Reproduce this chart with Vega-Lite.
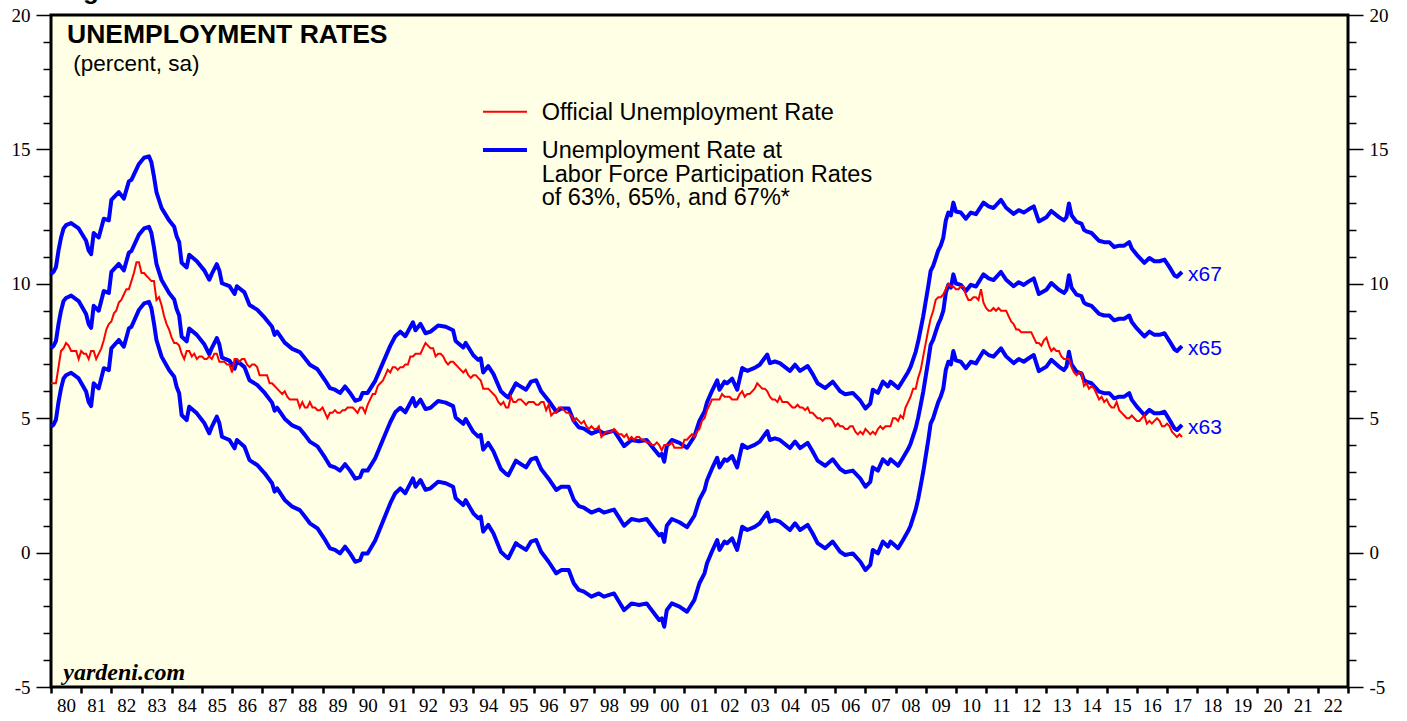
{
"$schema":"https://vega.github.io/schema/vega-lite/v6.json",
"width":1297,"height":672,
"autosize":{"type":"none"},
"padding":{"left":51,"top":15,"right":59,"bottom":34},
"background":"white",
"config":{"view":{"fill":"#FFFFE5","stroke":"#000","strokeWidth":3},"axis":{"grid":false,"domain":false,"tickColor":"#000","labelColor":"#000","labelFont":"Liberation Serif","labelFontSize":19}},
"datasets":{
"u":[
{"d":"1980-01","v":6.3},{"d":"1980-02","v":6.3},{"d":"1980-03","v":6.3},{"d":"1980-04","v":6.9},{"d":"1980-05","v":7.5},{"d":"1980-06","v":7.6},{"d":"1980-07","v":7.8},{"d":"1980-08","v":7.7},{"d":"1980-09","v":7.5},{"d":"1980-10","v":7.5},{"d":"1980-11","v":7.5},{"d":"1980-12","v":7.2},
{"d":"1981-01","v":7.5},{"d":"1981-02","v":7.4},{"d":"1981-03","v":7.4},{"d":"1981-04","v":7.2},{"d":"1981-05","v":7.5},{"d":"1981-06","v":7.5},{"d":"1981-07","v":7.2},{"d":"1981-08","v":7.4},{"d":"1981-09","v":7.6},{"d":"1981-10","v":7.9},{"d":"1981-11","v":8.3},{"d":"1981-12","v":8.5},
{"d":"1982-01","v":8.6},{"d":"1982-02","v":8.9},{"d":"1982-03","v":9.0},{"d":"1982-04","v":9.3},{"d":"1982-05","v":9.4},{"d":"1982-06","v":9.6},{"d":"1982-07","v":9.8},{"d":"1982-08","v":9.8},{"d":"1982-09","v":10.1},{"d":"1982-10","v":10.4},{"d":"1982-11","v":10.8},{"d":"1982-12","v":10.8},
{"d":"1983-01","v":10.4},{"d":"1983-02","v":10.4},{"d":"1983-03","v":10.3},{"d":"1983-04","v":10.2},{"d":"1983-05","v":10.1},{"d":"1983-06","v":10.1},{"d":"1983-07","v":9.4},{"d":"1983-08","v":9.5},{"d":"1983-09","v":9.2},{"d":"1983-10","v":8.8},{"d":"1983-11","v":8.5},{"d":"1983-12","v":8.3},
{"d":"1984-01","v":8.0},{"d":"1984-02","v":7.8},{"d":"1984-03","v":7.8},{"d":"1984-04","v":7.7},{"d":"1984-05","v":7.4},{"d":"1984-06","v":7.2},{"d":"1984-07","v":7.5},{"d":"1984-08","v":7.5},{"d":"1984-09","v":7.3},{"d":"1984-10","v":7.4},{"d":"1984-11","v":7.2},{"d":"1984-12","v":7.3},
{"d":"1985-01","v":7.3},{"d":"1985-02","v":7.2},{"d":"1985-03","v":7.2},{"d":"1985-04","v":7.3},{"d":"1985-05","v":7.2},{"d":"1985-06","v":7.4},{"d":"1985-07","v":7.4},{"d":"1985-08","v":7.1},{"d":"1985-09","v":7.1},{"d":"1985-10","v":7.1},{"d":"1985-11","v":7.0},{"d":"1985-12","v":7.0},
{"d":"1986-01","v":6.7},{"d":"1986-02","v":7.2},{"d":"1986-03","v":7.2},{"d":"1986-04","v":7.1},{"d":"1986-05","v":7.2},{"d":"1986-06","v":7.2},{"d":"1986-07","v":7.0},{"d":"1986-08","v":6.9},{"d":"1986-09","v":7.0},{"d":"1986-10","v":7.0},{"d":"1986-11","v":6.9},{"d":"1986-12","v":6.6},
{"d":"1987-01","v":6.6},{"d":"1987-02","v":6.6},{"d":"1987-03","v":6.6},{"d":"1987-04","v":6.3},{"d":"1987-05","v":6.3},{"d":"1987-06","v":6.2},{"d":"1987-07","v":6.1},{"d":"1987-08","v":6.0},{"d":"1987-09","v":5.9},{"d":"1987-10","v":6.0},{"d":"1987-11","v":5.8},{"d":"1987-12","v":5.7},
{"d":"1988-01","v":5.7},{"d":"1988-02","v":5.7},{"d":"1988-03","v":5.7},{"d":"1988-04","v":5.4},{"d":"1988-05","v":5.6},{"d":"1988-06","v":5.4},{"d":"1988-07","v":5.4},{"d":"1988-08","v":5.6},{"d":"1988-09","v":5.4},{"d":"1988-10","v":5.4},{"d":"1988-11","v":5.3},{"d":"1988-12","v":5.3},
{"d":"1989-01","v":5.4},{"d":"1989-02","v":5.2},{"d":"1989-03","v":5.0},{"d":"1989-04","v":5.2},{"d":"1989-05","v":5.2},{"d":"1989-06","v":5.3},{"d":"1989-07","v":5.2},{"d":"1989-08","v":5.2},{"d":"1989-09","v":5.3},{"d":"1989-10","v":5.3},{"d":"1989-11","v":5.4},{"d":"1989-12","v":5.4},
{"d":"1990-01","v":5.4},{"d":"1990-02","v":5.3},{"d":"1990-03","v":5.2},{"d":"1990-04","v":5.4},{"d":"1990-05","v":5.4},{"d":"1990-06","v":5.2},{"d":"1990-07","v":5.5},{"d":"1990-08","v":5.7},{"d":"1990-09","v":5.9},{"d":"1990-10","v":5.9},{"d":"1990-11","v":6.2},{"d":"1990-12","v":6.3},
{"d":"1991-01","v":6.4},{"d":"1991-02","v":6.6},{"d":"1991-03","v":6.8},{"d":"1991-04","v":6.7},{"d":"1991-05","v":6.9},{"d":"1991-06","v":6.9},{"d":"1991-07","v":6.8},{"d":"1991-08","v":6.9},{"d":"1991-09","v":6.9},{"d":"1991-10","v":7.0},{"d":"1991-11","v":7.0},{"d":"1991-12","v":7.3},
{"d":"1992-01","v":7.3},{"d":"1992-02","v":7.4},{"d":"1992-03","v":7.4},{"d":"1992-04","v":7.4},{"d":"1992-05","v":7.6},{"d":"1992-06","v":7.8},{"d":"1992-07","v":7.7},{"d":"1992-08","v":7.6},{"d":"1992-09","v":7.6},{"d":"1992-10","v":7.3},{"d":"1992-11","v":7.4},{"d":"1992-12","v":7.4},
{"d":"1993-01","v":7.3},{"d":"1993-02","v":7.1},{"d":"1993-03","v":7.0},{"d":"1993-04","v":7.1},{"d":"1993-05","v":7.1},{"d":"1993-06","v":7.0},{"d":"1993-07","v":6.9},{"d":"1993-08","v":6.8},{"d":"1993-09","v":6.7},{"d":"1993-10","v":6.8},{"d":"1993-11","v":6.6},{"d":"1993-12","v":6.5},
{"d":"1994-01","v":6.6},{"d":"1994-02","v":6.6},{"d":"1994-03","v":6.5},{"d":"1994-04","v":6.4},{"d":"1994-05","v":6.1},{"d":"1994-06","v":6.1},{"d":"1994-07","v":6.1},{"d":"1994-08","v":6.0},{"d":"1994-09","v":5.9},{"d":"1994-10","v":5.8},{"d":"1994-11","v":5.6},{"d":"1994-12","v":5.5},
{"d":"1995-01","v":5.6},{"d":"1995-02","v":5.4},{"d":"1995-03","v":5.4},{"d":"1995-04","v":5.8},{"d":"1995-05","v":5.6},{"d":"1995-06","v":5.6},{"d":"1995-07","v":5.7},{"d":"1995-08","v":5.7},{"d":"1995-09","v":5.6},{"d":"1995-10","v":5.5},{"d":"1995-11","v":5.6},{"d":"1995-12","v":5.6},
{"d":"1996-01","v":5.6},{"d":"1996-02","v":5.5},{"d":"1996-03","v":5.5},{"d":"1996-04","v":5.6},{"d":"1996-05","v":5.6},{"d":"1996-06","v":5.3},{"d":"1996-07","v":5.5},{"d":"1996-08","v":5.1},{"d":"1996-09","v":5.2},{"d":"1996-10","v":5.2},{"d":"1996-11","v":5.4},{"d":"1996-12","v":5.4},
{"d":"1997-01","v":5.3},{"d":"1997-02","v":5.2},{"d":"1997-03","v":5.2},{"d":"1997-04","v":5.1},{"d":"1997-05","v":4.9},{"d":"1997-06","v":5.0},{"d":"1997-07","v":4.9},{"d":"1997-08","v":4.8},{"d":"1997-09","v":4.9},{"d":"1997-10","v":4.7},{"d":"1997-11","v":4.6},{"d":"1997-12","v":4.7},
{"d":"1998-01","v":4.6},{"d":"1998-02","v":4.6},{"d":"1998-03","v":4.7},{"d":"1998-04","v":4.3},{"d":"1998-05","v":4.4},{"d":"1998-06","v":4.5},{"d":"1998-07","v":4.5},{"d":"1998-08","v":4.5},{"d":"1998-09","v":4.6},{"d":"1998-10","v":4.5},{"d":"1998-11","v":4.4},{"d":"1998-12","v":4.4},
{"d":"1999-01","v":4.3},{"d":"1999-02","v":4.4},{"d":"1999-03","v":4.2},{"d":"1999-04","v":4.3},{"d":"1999-05","v":4.2},{"d":"1999-06","v":4.3},{"d":"1999-07","v":4.3},{"d":"1999-08","v":4.2},{"d":"1999-09","v":4.2},{"d":"1999-10","v":4.1},{"d":"1999-11","v":4.1},{"d":"1999-12","v":4.0},
{"d":"2000-01","v":4.0},{"d":"2000-02","v":4.1},{"d":"2000-03","v":4.0},{"d":"2000-04","v":3.8},{"d":"2000-05","v":4.0},{"d":"2000-06","v":4.0},{"d":"2000-07","v":4.0},{"d":"2000-08","v":4.1},{"d":"2000-09","v":3.9},{"d":"2000-10","v":3.9},{"d":"2000-11","v":3.9},{"d":"2000-12","v":3.9},
{"d":"2001-01","v":4.2},{"d":"2001-02","v":4.2},{"d":"2001-03","v":4.3},{"d":"2001-04","v":4.4},{"d":"2001-05","v":4.3},{"d":"2001-06","v":4.5},{"d":"2001-07","v":4.6},{"d":"2001-08","v":4.9},{"d":"2001-09","v":5.0},{"d":"2001-10","v":5.3},{"d":"2001-11","v":5.5},{"d":"2001-12","v":5.7},
{"d":"2002-01","v":5.7},{"d":"2002-02","v":5.7},{"d":"2002-03","v":5.7},{"d":"2002-04","v":5.9},{"d":"2002-05","v":5.8},{"d":"2002-06","v":5.8},{"d":"2002-07","v":5.8},{"d":"2002-08","v":5.7},{"d":"2002-09","v":5.7},{"d":"2002-10","v":5.7},{"d":"2002-11","v":5.9},{"d":"2002-12","v":6.0},
{"d":"2003-01","v":5.8},{"d":"2003-02","v":5.9},{"d":"2003-03","v":5.9},{"d":"2003-04","v":6.0},{"d":"2003-05","v":6.1},{"d":"2003-06","v":6.3},{"d":"2003-07","v":6.2},{"d":"2003-08","v":6.1},{"d":"2003-09","v":6.1},{"d":"2003-10","v":6.0},{"d":"2003-11","v":5.8},{"d":"2003-12","v":5.7},
{"d":"2004-01","v":5.7},{"d":"2004-02","v":5.6},{"d":"2004-03","v":5.8},{"d":"2004-04","v":5.6},{"d":"2004-05","v":5.6},{"d":"2004-06","v":5.6},{"d":"2004-07","v":5.5},{"d":"2004-08","v":5.4},{"d":"2004-09","v":5.4},{"d":"2004-10","v":5.5},{"d":"2004-11","v":5.4},{"d":"2004-12","v":5.4},
{"d":"2005-01","v":5.3},{"d":"2005-02","v":5.4},{"d":"2005-03","v":5.2},{"d":"2005-04","v":5.2},{"d":"2005-05","v":5.1},{"d":"2005-06","v":5.0},{"d":"2005-07","v":5.0},{"d":"2005-08","v":4.9},{"d":"2005-09","v":5.0},{"d":"2005-10","v":5.0},{"d":"2005-11","v":5.0},{"d":"2005-12","v":4.9},
{"d":"2006-01","v":4.7},{"d":"2006-02","v":4.8},{"d":"2006-03","v":4.7},{"d":"2006-04","v":4.7},{"d":"2006-05","v":4.6},{"d":"2006-06","v":4.6},{"d":"2006-07","v":4.7},{"d":"2006-08","v":4.7},{"d":"2006-09","v":4.5},{"d":"2006-10","v":4.4},{"d":"2006-11","v":4.5},{"d":"2006-12","v":4.4},
{"d":"2007-01","v":4.6},{"d":"2007-02","v":4.5},{"d":"2007-03","v":4.4},{"d":"2007-04","v":4.5},{"d":"2007-05","v":4.4},{"d":"2007-06","v":4.6},{"d":"2007-07","v":4.7},{"d":"2007-08","v":4.6},{"d":"2007-09","v":4.7},{"d":"2007-10","v":4.7},{"d":"2007-11","v":4.7},{"d":"2007-12","v":5.0},
{"d":"2008-01","v":5.0},{"d":"2008-02","v":4.9},{"d":"2008-03","v":5.1},{"d":"2008-04","v":5.0},{"d":"2008-05","v":5.4},{"d":"2008-06","v":5.6},{"d":"2008-07","v":5.8},{"d":"2008-08","v":6.1},{"d":"2008-09","v":6.1},{"d":"2008-10","v":6.5},{"d":"2008-11","v":6.8},{"d":"2008-12","v":7.3},
{"d":"2009-01","v":7.8},{"d":"2009-02","v":8.3},{"d":"2009-03","v":8.7},{"d":"2009-04","v":9.0},{"d":"2009-05","v":9.4},{"d":"2009-06","v":9.5},{"d":"2009-07","v":9.5},{"d":"2009-08","v":9.6},{"d":"2009-09","v":9.8},{"d":"2009-10","v":10.0},{"d":"2009-11","v":9.9},{"d":"2009-12","v":9.9},
{"d":"2010-01","v":9.8},{"d":"2010-02","v":9.8},{"d":"2010-03","v":9.9},{"d":"2010-04","v":9.9},{"d":"2010-05","v":9.6},{"d":"2010-06","v":9.4},{"d":"2010-07","v":9.4},{"d":"2010-08","v":9.5},{"d":"2010-09","v":9.5},{"d":"2010-10","v":9.4},{"d":"2010-11","v":9.8},{"d":"2010-12","v":9.3},
{"d":"2011-01","v":9.1},{"d":"2011-02","v":9.0},{"d":"2011-03","v":9.0},{"d":"2011-04","v":9.1},{"d":"2011-05","v":9.0},{"d":"2011-06","v":9.1},{"d":"2011-07","v":9.0},{"d":"2011-08","v":9.0},{"d":"2011-09","v":9.0},{"d":"2011-10","v":8.8},{"d":"2011-11","v":8.6},{"d":"2011-12","v":8.5},
{"d":"2012-01","v":8.3},{"d":"2012-02","v":8.3},{"d":"2012-03","v":8.2},{"d":"2012-04","v":8.2},{"d":"2012-05","v":8.2},{"d":"2012-06","v":8.2},{"d":"2012-07","v":8.2},{"d":"2012-08","v":8.0},{"d":"2012-09","v":7.8},{"d":"2012-10","v":7.8},{"d":"2012-11","v":7.7},{"d":"2012-12","v":7.9},
{"d":"2013-01","v":8.0},{"d":"2013-02","v":7.7},{"d":"2013-03","v":7.5},{"d":"2013-04","v":7.6},{"d":"2013-05","v":7.5},{"d":"2013-06","v":7.5},{"d":"2013-07","v":7.3},{"d":"2013-08","v":7.2},{"d":"2013-09","v":7.2},{"d":"2013-10","v":7.2},{"d":"2013-11","v":6.9},{"d":"2013-12","v":6.7},
{"d":"2014-01","v":6.6},{"d":"2014-02","v":6.7},{"d":"2014-03","v":6.7},{"d":"2014-04","v":6.2},{"d":"2014-05","v":6.3},{"d":"2014-06","v":6.1},{"d":"2014-07","v":6.2},{"d":"2014-08","v":6.1},{"d":"2014-09","v":5.9},{"d":"2014-10","v":5.7},{"d":"2014-11","v":5.8},{"d":"2014-12","v":5.6},
{"d":"2015-01","v":5.7},{"d":"2015-02","v":5.5},{"d":"2015-03","v":5.4},{"d":"2015-04","v":5.4},{"d":"2015-05","v":5.6},{"d":"2015-06","v":5.3},{"d":"2015-07","v":5.2},{"d":"2015-08","v":5.1},{"d":"2015-09","v":5.0},{"d":"2015-10","v":5.0},{"d":"2015-11","v":5.1},{"d":"2015-12","v":5.0},
{"d":"2016-01","v":4.9},{"d":"2016-02","v":4.9},{"d":"2016-03","v":5.0},{"d":"2016-04","v":5.1},{"d":"2016-05","v":4.8},{"d":"2016-06","v":4.9},{"d":"2016-07","v":4.8},{"d":"2016-08","v":4.9},{"d":"2016-09","v":5.0},{"d":"2016-10","v":4.9},{"d":"2016-11","v":4.7},{"d":"2016-12","v":4.7},
{"d":"2017-01","v":4.8},{"d":"2017-02","v":4.7},{"d":"2017-03","v":4.5},{"d":"2017-04","v":4.4},{"d":"2017-05","v":4.3},{"d":"2017-06","v":4.4},{"d":"2017-07","v":4.3}
],
"b":[
{"d":"1980-01","x63":4.68,"x65":7.61,"x67":10.37},{"d":"1980-02","x63":4.76,"x65":7.69,"x67":10.45},{"d":"1980-03","x63":4.95,"x65":7.87,"x67":10.62},{"d":"1980-04","x63":5.6,"x65":8.50,"x67":11.24},{"d":"1980-05","x63":6.1,"x65":8.99,"x67":11.71},{"d":"1980-06","x63":6.48,"x65":9.36,"x67":12.06},{"d":"1980-07","x63":6.6,"x65":9.47,"x67":12.18},{"d":"1980-09","x63":6.69,"x65":9.56,"x67":12.26},{"d":"1980-12","x63":6.48,"x65":9.36,"x67":12.06},
{"d":"1981-03","x63":5.99,"x65":8.88,"x67":11.60},{"d":"1981-04","x63":5.6,"x65":8.50,"x67":11.24},{"d":"1981-05","x63":5.45,"x65":8.36,"x67":11.10},{"d":"1981-06","x63":6.3,"x65":9.18,"x67":11.89},{"d":"1981-07","x63":6.2,"x65":9.09,"x67":11.80},{"d":"1981-08","x63":6.11,"x65":9.00,"x67":11.72},{"d":"1981-10","x63":6.86,"x65":9.73,"x67":12.42},{"d":"1981-12","x63":6.79,"x65":9.66,"x67":12.36},
{"d":"1982-01","x63":7.60,"x65":10.44,"x67":13.12},{"d":"1982-04","x63":7.91,"x65":10.74,"x67":13.41},{"d":"1982-06","x63":7.66,"x65":10.50,"x67":13.17},{"d":"1982-08","x63":8.34,"x65":11.16,"x67":13.81},{"d":"1982-09","x63":8.40,"x65":11.22,"x67":13.87},{"d":"1982-12","x63":9.03,"x65":11.83,"x67":14.46},
{"d":"1983-02","x63":9.27,"x65":12.06,"x67":14.69},{"d":"1983-04","x63":9.33,"x65":12.12,"x67":14.74},{"d":"1983-05","x63":9.09,"x65":11.89,"x67":14.52},{"d":"1983-06","x63":8.53,"x65":11.35,"x67":13.99},{"d":"1983-07","x63":7.91,"x65":10.74,"x67":13.41},{"d":"1983-09","x63":7.29,"x65":10.14,"x67":12.82},{"d":"1983-12","x63":6.79,"x65":9.66,"x67":12.36},
{"d":"1984-02","x63":6.54,"x65":9.42,"x67":12.12},{"d":"1984-03","x63":6.17,"x65":9.06,"x67":11.77},{"d":"1984-04","x63":5.93,"x65":8.82,"x67":11.55},{"d":"1984-05","x63":5.12,"x65":8.04,"x67":10.78},{"d":"1984-07","x63":4.93,"x65":7.86,"x67":10.61},{"d":"1984-08","x63":5.43,"x65":8.34,"x67":11.08},{"d":"1984-11","x63":5.18,"x65":8.10,"x67":10.84},
{"d":"1985-02","x63":4.81,"x65":7.74,"x67":10.49},{"d":"1985-04","x63":4.44,"x65":7.38,"x67":10.15},{"d":"1985-05","x63":4.68,"x65":7.61,"x67":10.37},{"d":"1985-07","x63":5.06,"x65":7.98,"x67":10.73},{"d":"1985-08","x63":4.81,"x65":7.74,"x67":10.49},{"d":"1985-09","x63":4.31,"x65":7.25,"x67":10.02},{"d":"1985-12","x63":4.19,"x65":7.14,"x67":9.91},
{"d":"1986-02","x63":3.88,"x65":6.84,"x67":9.62},{"d":"1986-03","x63":4.19,"x65":7.14,"x67":9.91},{"d":"1986-06","x63":3.94,"x65":6.90,"x67":9.68},{"d":"1986-08","x63":3.44,"x65":6.41,"x67":9.21},{"d":"1986-11","x63":3.26,"x65":6.24,"x67":9.04},
{"d":"1987-02","x63":2.95,"x65":5.94,"x67":8.74},{"d":"1987-05","x63":2.58,"x65":5.58,"x67":8.40},{"d":"1987-06","x63":2.27,"x65":5.28,"x67":8.10},{"d":"1987-07","x63":2.39,"x65":5.39,"x67":8.22},{"d":"1987-10","x63":1.96,"x65":4.98,"x67":7.81},
{"d":"1988-01","x63":1.71,"x65":4.73,"x67":7.58},{"d":"1988-04","x63":1.58,"x65":4.61,"x67":7.46},{"d":"1988-06","x63":1.34,"x65":4.38,"x67":7.23},{"d":"1988-08","x63":1.09,"x65":4.13,"x67":6.99},{"d":"1988-11","x63":0.90,"x65":3.95,"x67":6.82},
{"d":"1989-02","x63":0.47,"x65":3.53,"x67":6.41},{"d":"1989-04","x63":0.16,"x65":3.23,"x67":6.12},{"d":"1989-06","x63":0.10,"x65":3.17,"x67":6.06},{"d":"1989-08","x63":-0.03,"x65":3.05,"x67":5.94},{"d":"1989-10","x63":0.22,"x65":3.29,"x67":6.18},{"d":"1989-12","x63":-0.03,"x65":3.05,"x67":5.94},
{"d":"1990-02","x63":-0.34,"x65":2.75,"x67":5.65},{"d":"1990-04","x63":-0.28,"x65":2.81,"x67":5.71},{"d":"1990-05","x63":-0.03,"x65":3.05,"x67":5.94},{"d":"1990-07","x63":-0.03,"x65":3.05,"x67":5.94},{"d":"1990-10","x63":0.45,"x65":3.51,"x67":6.39},
{"d":"1991-01","x63":1.15,"x65":4.19,"x67":7.05},{"d":"1991-04","x63":1.83,"x65":4.85,"x67":7.69},{"d":"1991-06","x63":2.21,"x65":5.22,"x67":8.05},{"d":"1991-08","x63":2.39,"x65":5.39,"x67":8.22},{"d":"1991-10","x63":2.21,"x65":5.22,"x67":8.05},
{"d":"1992-01","x63":2.76,"x65":5.75,"x67":8.57},{"d":"1992-02","x63":2.45,"x65":5.45,"x67":8.27},{"d":"1992-04","x63":2.70,"x65":5.69,"x67":8.51},{"d":"1992-06","x63":2.33,"x65":5.34,"x67":8.16},{"d":"1992-08","x63":2.39,"x65":5.39,"x67":8.22},{"d":"1992-11","x63":2.64,"x65":5.64,"x67":8.45},
{"d":"1993-02","x63":2.58,"x65":5.58,"x67":8.40},{"d":"1993-05","x63":2.45,"x65":5.45,"x67":8.27},{"d":"1993-06","x63":2.02,"x65":5.03,"x67":7.87},{"d":"1993-09","x63":1.77,"x65":4.79,"x67":7.63},{"d":"1993-10","x63":1.95,"x65":4.97,"x67":7.80},
{"d":"1994-01","x63":1.46,"x65":4.49,"x67":7.34},{"d":"1994-03","x63":1.28,"x65":4.32,"x67":7.17},{"d":"1994-04","x63":1.34,"x65":4.38,"x67":7.23},{"d":"1994-05","x63":0.78,"x65":3.83,"x67":6.70},{"d":"1994-07","x63":1.03,"x65":4.08,"x67":6.94},{"d":"1994-09","x63":0.72,"x65":3.77,"x67":6.65},{"d":"1994-12","x63":0.03,"x65":3.11,"x67":6.00},
{"d":"1995-02","x63":-0.15,"x65":2.93,"x67":5.83},{"d":"1995-03","x63":-0.21,"x65":2.87,"x67":5.77},{"d":"1995-06","x63":0.35,"x65":3.42,"x67":6.30},{"d":"1995-07","x63":0.28,"x65":3.35,"x67":6.23},{"d":"1995-10","x63":0.10,"x65":3.17,"x67":6.06},{"d":"1995-12","x63":0.41,"x65":3.47,"x67":6.36},
{"d":"1996-02","x63":0.47,"x65":3.53,"x67":6.41},{"d":"1996-04","x63":0.03,"x65":3.11,"x67":6.00},{"d":"1996-07","x63":-0.34,"x65":2.75,"x67":5.65},{"d":"1996-10","x63":-0.77,"x65":2.33,"x67":5.25},{"d":"1996-12","x63":-0.65,"x65":2.45,"x67":5.36},
{"d":"1997-03","x63":-0.65,"x65":2.45,"x67":5.36},{"d":"1997-05","x63":-1.14,"x65":1.97,"x67":4.90},{"d":"1997-07","x63":-1.39,"x65":1.73,"x67":4.66},{"d":"1997-09","x63":-1.45,"x65":1.67,"x67":4.61},{"d":"1997-12","x63":-1.64,"x65":1.49,"x67":4.43},
{"d":"1998-03","x63":-1.52,"x65":1.60,"x67":4.54},{"d":"1998-05","x63":-1.64,"x65":1.49,"x67":4.43},{"d":"1998-09","x63":-1.52,"x65":1.60,"x67":4.54},{"d":"1998-11","x63":-1.83,"x65":1.30,"x67":4.25},
{"d":"1999-01","x63":-2.14,"x65":1.00,"x67":3.96},{"d":"1999-04","x63":-1.89,"x65":1.25,"x67":4.19},{"d":"1999-07","x63":-1.95,"x65":1.19,"x67":4.14},{"d":"1999-10","x63":-1.89,"x65":1.25,"x67":4.19},{"d":"1999-12","x63":-2.14,"x65":1.00,"x67":3.96},
{"d":"2000-03","x63":-2.51,"x65":0.64,"x67":3.61},{"d":"2000-04","x63":-2.45,"x65":0.70,"x67":3.67},{"d":"2000-05","x63":-2.76,"x65":0.40,"x67":3.38},{"d":"2000-06","x63":-2.14,"x65":1.00,"x67":3.96},{"d":"2000-08","x63":-1.89,"x65":1.25,"x67":4.19},{"d":"2000-11","x63":-2.01,"x65":1.13,"x67":4.08},
{"d":"2001-02","x63":-2.20,"x65":0.95,"x67":3.90},{"d":"2001-05","x63":-1.76,"x65":1.37,"x67":4.32},{"d":"2001-07","x63":-1.14,"x65":1.97,"x67":4.90},{"d":"2001-09","x63":-0.77,"x65":2.33,"x67":5.25},{"d":"2001-10","x63":-0.40,"x65":2.69,"x67":5.59},{"d":"2001-12","x63":0.05,"x65":3.13,"x67":6.02},
{"d":"2002-02","x63":0.47,"x65":3.53,"x67":6.41},{"d":"2002-03","x63":0.10,"x65":3.17,"x67":6.06},{"d":"2002-05","x63":0.41,"x65":3.47,"x67":6.36},{"d":"2002-06","x63":0.35,"x65":3.42,"x67":6.30},{"d":"2002-08","x63":0.53,"x65":3.59,"x67":6.47},{"d":"2002-10","x63":0.10,"x65":3.17,"x67":6.06},{"d":"2002-12","x63":0.96,"x65":4.01,"x67":6.87},
{"d":"2003-02","x63":0.84,"x65":3.89,"x67":6.76},{"d":"2003-05","x63":0.96,"x65":4.01,"x67":6.87},{"d":"2003-07","x63":1.09,"x65":4.13,"x67":6.99},{"d":"2003-10","x63":1.49,"x65":4.52,"x67":7.37},{"d":"2003-11","x63":1.15,"x65":4.19,"x67":7.05},
{"d":"2004-01","x63":1.21,"x65":4.25,"x67":7.11},{"d":"2004-03","x63":1.15,"x65":4.19,"x67":7.05},{"d":"2004-07","x63":0.84,"x65":3.89,"x67":6.76},{"d":"2004-09","x63":1.09,"x65":4.13,"x67":6.99},{"d":"2004-11","x63":0.84,"x65":3.89,"x67":6.76},
{"d":"2005-02","x63":1.03,"x65":4.08,"x67":6.94},{"d":"2005-04","x63":0.72,"x65":3.77,"x67":6.65},{"d":"2005-06","x63":0.35,"x65":3.42,"x67":6.30},{"d":"2005-09","x63":0.16,"x65":3.23,"x67":6.12},{"d":"2005-12","x63":0.41,"x65":3.47,"x67":6.36},
{"d":"2006-03","x63":0.03,"x65":3.11,"x67":6.00},{"d":"2006-05","x63":-0.09,"x65":2.99,"x67":5.89},{"d":"2006-08","x63":-0.03,"x65":3.05,"x67":5.94},{"d":"2006-11","x63":-0.34,"x65":2.75,"x67":5.65},
{"d":"2007-01","x63":-0.65,"x65":2.45,"x67":5.36},{"d":"2007-03","x63":-0.46,"x65":2.63,"x67":5.54},{"d":"2007-04","x63":0.10,"x65":3.17,"x67":6.06},{"d":"2007-06","x63":-0.03,"x65":3.05,"x67":5.94},{"d":"2007-08","x63":0.41,"x65":3.47,"x67":6.36},{"d":"2007-10","x63":0.22,"x65":3.29,"x67":6.18},{"d":"2007-11","x63":0.41,"x65":3.47,"x67":6.36},
{"d":"2008-02","x63":0.16,"x65":3.23,"x67":6.12},{"d":"2008-04","x63":0.47,"x65":3.53,"x67":6.41},{"d":"2008-06","x63":0.8,"x65":3.85,"x67":6.72},{"d":"2008-07","x63":1.0,"x65":4.05,"x67":6.91},{"d":"2008-08","x63":1.3,"x65":4.34,"x67":7.19},{"d":"2008-09","x63":1.6,"x65":4.63,"x67":7.47},{"d":"2008-10","x63":2.0,"x65":5.02,"x67":7.85},{"d":"2008-11","x63":2.5,"x65":5.50,"x67":8.32},{"d":"2008-12","x63":3.0,"x65":5.98,"x67":8.79},
{"d":"2009-01","x63":3.6,"x65":6.57,"x67":9.36},{"d":"2009-02","x63":4.2,"x65":7.15,"x67":9.92},{"d":"2009-03","x63":4.8,"x65":7.73,"x67":10.48},{"d":"2009-04","x63":5.0,"x65":7.92,"x67":10.67},{"d":"2009-05","x63":5.3,"x65":8.21,"x67":10.95},{"d":"2009-06","x63":5.6,"x65":8.50,"x67":11.24},{"d":"2009-07","x63":5.8,"x65":8.70,"x67":11.42},{"d":"2009-08","x63":6.1,"x65":8.99,"x67":11.71},{"d":"2009-09","x63":6.8,"x65":9.67,"x67":12.36},{"d":"2009-10","x63":7.1,"x65":9.96,"x67":12.65},{"d":"2009-11","x63":7.0,"x65":9.86,"x67":12.55},{"d":"2009-12","x63":7.5,"x65":10.35,"x67":13.02},
{"d":"2010-01","x63":7.15,"x65":10.01,"x67":12.69},{"d":"2010-03","x63":7.1,"x65":9.96,"x67":12.65},{"d":"2010-05","x63":6.86,"x65":9.73,"x67":12.42},{"d":"2010-07","x63":7.1,"x65":9.96,"x67":12.65},{"d":"2010-09","x63":7.04,"x65":9.90,"x67":12.59},{"d":"2010-12","x63":7.5,"x65":10.35,"x67":13.02},
{"d":"2011-02","x63":7.35,"x65":10.20,"x67":12.88},{"d":"2011-04","x63":7.29,"x65":10.14,"x67":12.82},{"d":"2011-07","x63":7.60,"x65":10.44,"x67":13.12},{"d":"2011-09","x63":7.3,"x65":10.15,"x67":12.83},{"d":"2011-12","x63":7.05,"x65":9.91,"x67":12.60},
{"d":"2012-02","x63":7.2,"x65":10.06,"x67":12.74},{"d":"2012-04","x63":7.1,"x65":9.96,"x67":12.65},{"d":"2012-06","x63":7.23,"x65":10.09,"x67":12.77},{"d":"2012-08","x63":7.35,"x65":10.20,"x67":12.88},{"d":"2012-10","x63":6.75,"x65":9.62,"x67":12.32},
{"d":"2013-01","x63":6.92,"x65":9.78,"x67":12.48},{"d":"2013-03","x63":7.17,"x65":10.03,"x67":12.71},{"d":"2013-06","x63":6.92,"x65":9.78,"x67":12.48},{"d":"2013-08","x63":6.79,"x65":9.66,"x67":12.36},{"d":"2013-09","x63":6.92,"x65":9.78,"x67":12.48},{"d":"2013-10","x63":7.47,"x65":10.32,"x67":12.99},{"d":"2013-11","x63":7.0,"x65":9.86,"x67":12.55},
{"d":"2014-01","x63":6.73,"x65":9.60,"x67":12.30},{"d":"2014-03","x63":6.67,"x65":9.54,"x67":12.24},{"d":"2014-04","x63":6.42,"x65":9.30,"x67":12.01},{"d":"2014-05","x63":6.36,"x65":9.24,"x67":11.95},{"d":"2014-07","x63":6.30,"x65":9.18,"x67":11.89},{"d":"2014-10","x63":5.99,"x65":8.88,"x67":11.60},{"d":"2014-12","x63":5.93,"x65":8.82,"x67":11.55},
{"d":"2015-02","x63":5.93,"x65":8.82,"x67":11.55},{"d":"2015-04","x63":5.74,"x65":8.64,"x67":11.37},{"d":"2015-06","x63":5.80,"x65":8.70,"x67":11.42},{"d":"2015-08","x63":5.80,"x65":8.70,"x67":11.42},{"d":"2015-10","x63":5.93,"x65":8.82,"x67":11.55},{"d":"2015-11","x63":5.68,"x65":8.58,"x67":11.31},
{"d":"2016-01","x63":5.43,"x65":8.34,"x67":11.08},{"d":"2016-04","x63":5.12,"x65":8.04,"x67":10.78},{"d":"2016-06","x63":5.31,"x65":8.22,"x67":10.96},{"d":"2016-08","x63":5.18,"x65":8.10,"x67":10.84},{"d":"2016-10","x63":5.18,"x65":8.10,"x67":10.84},{"d":"2016-12","x63":5.24,"x65":8.16,"x67":10.90},
{"d":"2017-02","x63":4.93,"x65":7.86,"x67":10.61},{"d":"2017-04","x63":4.62,"x65":7.56,"x67":10.31},{"d":"2017-05","x63":4.56,"x65":7.50,"x67":10.26},{"d":"2017-07","x63":4.75,"x65":7.68,"x67":10.44}
]
},
"resolve":{"axis":{"y":"independent"}},
"layer":[
{"mark":{"type":"rule","color":"#222","strokeWidth":1.5},
 "encoding":{"y":{"datum":0,"type":"quantitative","scale":{"domain":[-5,20],"nice":false,"zero":false},"axis":{"orient":"left","values":[-5,0,5,10,15,20],"labelExpr":"'' + datum.value","tickSize":15,"tickWidth":1.5,"labelPadding":6,"title":null}}}},
{"data":{"name":"b"},
 "transform":[{"fold":["x63","x65","x67"],"as":["s","v"]}],
 "mark":{"type":"line","color":"#0000FF","strokeWidth":4,"strokeJoin":"round"},
 "encoding":{
  "x":{"field":"d","type":"temporal","title":null,"scale":{"type":"utc","domain":[315532800000,1672531200000]},
   "axis":{"orient":"bottom","tickCount":{"interval":"year","step":1},"tickSize":6,"tickWidth":2.5,"labelPadding":3,"labelOffset":15,"labelFlush":false,"labelOverlap":false,"labelExpr":"utcyear(datum.value) >= 2023 ? '' : utcFormat(datum.value, '%y')","title":null}},
  "y":{"field":"v","type":"quantitative","scale":{"domain":[-5,20],"nice":false,"zero":false},"axis":{"orient":"left","values":[-4,-3,-2,-1,1,2,3,4,6,7,8,9,11,12,13,14,16,17,18,19],"tickSize":8,"tickWidth":1.5,"labels":false,"title":null}},
  "detail":{"field":"s"}}},
{"data":{"name":"u"},
 "mark":{"type":"line","color":"#FF0000","strokeWidth":2},
 "encoding":{
  "x":{"field":"d","type":"temporal","title":null},
  "y":{"field":"v","type":"quantitative","scale":{"domain":[-5,20],"nice":false,"zero":false},"axis":{"orient":"right","values":[-5,0,5,10,15,20],"labelExpr":"'' + datum.value","tickSize":15,"tickWidth":1.5,"labelPadding":6,"title":null}}}},
{"data":{"name":"b"},
 "transform":[{"fold":["x63","x65","x67"],"as":["s","v"]},{"filter":"utcFormat(toDate(datum.d), '%Y-%m') == '2017-07'"}],
 "mark":{"type":"text","color":"#0000FF","font":"Liberation Sans","fontSize":21,"align":"left","baseline":"middle","dx":6,"dy":3},
 "encoding":{
  "x":{"field":"d","type":"temporal","title":null},
  "y":{"field":"v","type":"quantitative","scale":{"domain":[-5,20],"nice":false,"zero":false},"axis":{"orient":"right","values":[-4,-3,-2,-1,1,2,3,4,6,7,8,9,11,12,13,14,16,17,18,19],"tickSize":8,"tickWidth":1.5,"labels":false,"title":null}},
  "text":{"field":"s"}}},
{"data":{"values":[{}]},
 "mark":{"type":"text","text":"UNEMPLOYMENT RATES","font":"Liberation Sans","fontWeight":"bold","fontSize":26.5,"align":"left","baseline":"alphabetic","color":"#000"},
 "encoding":{"x":{"datum":332294400000,"type":"temporal","title":null},"y":{"datum":18.96,"type":"quantitative","axis":null}}},
{"data":{"values":[{}]},
 "mark":{"type":"text","text":"(percent, sa)","font":"Liberation Sans","fontSize":22.5,"align":"left","baseline":"alphabetic","color":"#000"},
 "encoding":{"x":{"datum":338860800000,"type":"temporal","title":null},"y":{"datum":17.92,"type":"quantitative","axis":null}}},
{"data":{"values":[{}]},
 "mark":{"type":"text","text":"Figure","font":"Liberation Sans","fontWeight":"bold","fontSize":26,"align":"left","baseline":"alphabetic","color":"#000"},
 "encoding":{"x":{"datum":324950400000,"type":"temporal","title":null},"y":{"datum":20.6,"type":"quantitative","axis":null}}},
{"data":{"values":[{}]},
 "mark":{"type":"rule","color":"#FF0000","strokeWidth":2},
 "encoding":{"x":{"datum":767491200000,"type":"temporal","title":null},"x2":{"datum":813542400000},"y":{"datum":16.40,"type":"quantitative","axis":null}}},
{"data":{"values":[{}]},
 "mark":{"type":"rule","color":"#0000FF","strokeWidth":4},
 "encoding":{"x":{"datum":767491200000,"type":"temporal","title":null},"x2":{"datum":813542400000},"y":{"datum":14.98,"type":"quantitative","axis":null}}},
{"data":{"values":[{}]},
 "mark":{"type":"text","text":"Official Unemployment Rate","font":"Liberation Sans","fontSize":23.5,"align":"left","baseline":"alphabetic","color":"#000"},
 "encoding":{"x":{"datum":828921600000,"type":"temporal","title":null},"y":{"datum":16.09,"type":"quantitative","axis":null}}},
{"data":{"values":[{}]},
 "mark":{"type":"text","text":["Unemployment Rate at","Labor Force Participation Rates","of 63%, 65%, and 67%*"],"lineHeight":23.3,"font":"Liberation Sans","fontSize":23.5,"align":"left","baseline":"alphabetic","color":"#000"},
 "encoding":{"x":{"datum":828921600000,"type":"temporal","title":null},"y":{"datum":14.67,"type":"quantitative","axis":null}}},
{"data":{"values":[{}]},
 "mark":{"type":"text","text":"yardeni.com","font":"Liberation Serif","fontStyle":"italic","fontWeight":"bold","fontSize":24,"align":"left","baseline":"alphabetic","color":"#000"},
 "encoding":{"x":{"datum":328406400000,"type":"temporal","title":null},"y":{"datum":-4.74,"type":"quantitative","axis":null}}}
]
}
